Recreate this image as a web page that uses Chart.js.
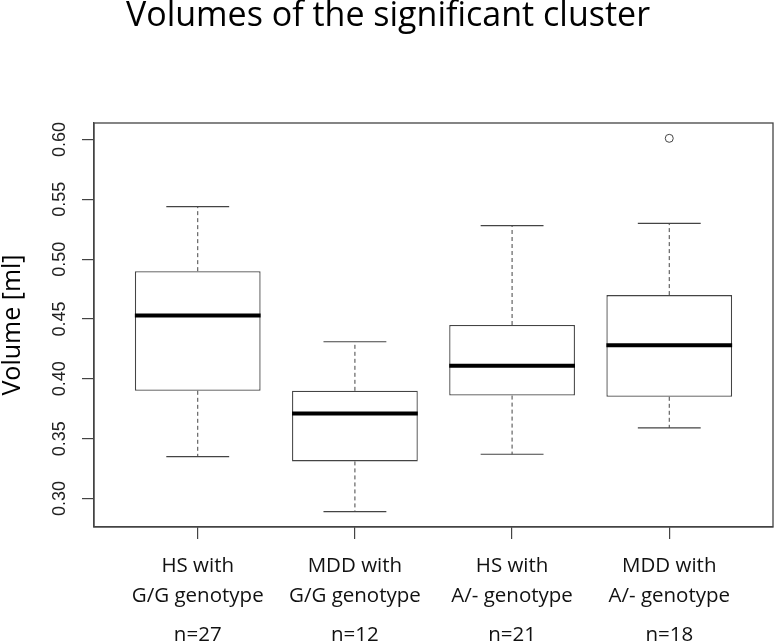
<!DOCTYPE html>
<html>
<head>
<meta charset="utf-8">
<title>Volumes of the significant cluster</title>
<script src="https://cdn.jsdelivr.net/npm/chart.js@4.4.1/dist/chart.umd.min.js"></script>
<style>
  html, body { margin: 0; padding: 0; background: #fff; }
  #wrap { width: 778px; height: 642px; }
</style>
</head>
<body>
<div id="wrap"><canvas id="chart" width="778" height="642"></canvas></div>
<script>
// Boxplot data
const categories = [
    ['HS with', 'G/G genotype'],
    ['MDD with', 'G/G genotype'],
    ['HS with', 'A/- genotype'],
    ['MDD with', 'A/- genotype']
];
const nLabels = ['n=27', 'n=12', 'n=21', 'n=18'];
const whiskerLow = [0.335, 0.289, 0.337, 0.359];
const q1 = [0.390, 0.331, 0.386, 0.385];
const median = [0.453, 0.371, 0.411, 0.428];
const q3 = [0.490, 0.390, 0.445, 0.470];
const whiskerHigh = [0.544, 0.431, 0.528, 0.530];
const outliers = [[], [], [], [0.601]];
const yTicks = [0.30, 0.35, 0.40, 0.45, 0.50, 0.55, 0.60];

const boxWidth = 0.8;   // in category units, like R's default
const capWidth = 0.4;
const lineColor = '#444';
const textFont = 'Open Sans';

const xPos = categories.map((c, i) => i + 1);

// helper: build line segments separated by gaps
function segments(fn) {
    const pts = [];
    xPos.forEach((x, i) => {
        fn(x, i).forEach(seg => {
            pts.push(seg[0], seg[1], { x: x, y: null });
        });
    });
    return pts;
}

const boxData = xPos.map((x, i) => ({ x: x, y: [q1[i], q3[i]] }));

const medianData = segments((x, i) => [[
    { x: x - boxWidth / 2, y: median[i] },
    { x: x + boxWidth / 2, y: median[i] }
]]);

const whiskerData = segments((x, i) => [
    [{ x: x, y: q3[i] }, { x: x, y: whiskerHigh[i] }],
    [{ x: x, y: q1[i] }, { x: x, y: whiskerLow[i] }]
]);

const capData = segments((x, i) => [
    [{ x: x - capWidth / 2, y: whiskerHigh[i] }, { x: x + capWidth / 2, y: whiskerHigh[i] }],
    [{ x: x - capWidth / 2, y: whiskerLow[i] }, { x: x + capWidth / 2, y: whiskerLow[i] }]
]);

const outlierData = [];
xPos.forEach((x, i) => outliers[i].forEach(v => outlierData.push({ x: x, y: v })));

// frame around the plot region, like R's box()
const framePlugin = {
    id: 'frame',
    afterDraw(chart) {
        const a = chart.chartArea;
        const ctx = chart.ctx;
        ctx.save();
        ctx.strokeStyle = lineColor;
        ctx.lineWidth = 1.3;
        ctx.strokeRect(a.left, a.top, a.right - a.left, a.bottom - a.top);
        ctx.restore();
    }
};

const xTicks = () => xPos.map(v => ({ value: v }));

new Chart(document.getElementById('chart'), {
    type: 'bar',
    data: {
        datasets: [{
            type: 'scatter',
            label: 'outliers',
            data: outlierData,
            pointStyle: 'circle',
            pointRadius: 4,
            pointBorderWidth: 1,
            pointBorderColor: lineColor,
            pointBackgroundColor: '#fff',
            order: 0
        }, {
            type: 'line',
            label: 'median',
            data: medianData,
            borderColor: '#000',
            borderWidth: 4,
            borderCapStyle: 'butt',
            pointRadius: 0,
            spanGaps: false,
            order: 1
        }, {
            type: 'line',
            label: 'caps',
            data: capData,
            borderColor: lineColor,
            borderWidth: 1.2,
            pointRadius: 0,
            spanGaps: false,
            order: 2
        }, {
            type: 'line',
            label: 'whiskers',
            data: whiskerData,
            borderColor: lineColor,
            borderWidth: 1,
            borderDash: [4, 3],
            pointRadius: 0,
            spanGaps: false,
            order: 3
        }, {
            type: 'bar',
            label: 'box',
            data: boxData,
            backgroundColor: '#fff',
            borderColor: lineColor,
            borderWidth: 1.3,
            borderSkipped: false,
            barPercentage: boxWidth,
            categoryPercentage: 1,
            order: 4
        }]
    },
    options: {
        responsive: false,
        animation: false,
        layout: { padding: { left: 0, right: 2, top: 0, bottom: 0 } },
        plugins: {
            legend: { display: false },
            tooltip: { enabled: false },
            title: {
                display: true,
                text: 'Volumes of the significant cluster',
                color: '#000',
                font: { family: textFont, size: 34, weight: 'normal', lineHeight: 1 },
                padding: { top: -1, bottom: 90 }
            }
        },
        scales: {
            x: {
                type: 'linear',
                position: 'bottom',
                min: 0.34,
                max: 4.66,
                offset: false,
                weight: 1,
                afterBuildTicks: s => { s.ticks = xTicks(); },
                afterFit: s => { s.height = 88; },
                ticks: {
                    autoSkip: false,
                    maxRotation: 0,
                    padding: 13,
                    color: '#111',
                    font: { family: textFont, size: 20.5, lineHeight: 1.42 },
                    callback: (v) => categories[Math.round(v) - 1] || ''
                },
                grid: { offset: false, drawOnChartArea: false, tickLength: 12, color: lineColor, lineWidth: 1.2 },
                border: { display: true, color: lineColor, width: 1.3 }
            },
            xn: {
                type: 'linear',
                position: 'bottom',
                min: 0.34,
                max: 4.66,
                offset: false,
                weight: 2,
                afterBuildTicks: s => { s.ticks = xTicks(); },
                afterFit: s => { s.height = 27; },
                ticks: {
                    autoSkip: false,
                    maxRotation: 0,
                    padding: 8,
                    color: '#111',
                    font: { family: textFont, size: 20.5 },
                    callback: (v) => nLabels[Math.round(v) - 1] || ''
                },
                grid: { display: false, drawTicks: false, tickLength: 0 },
                border: { display: false }
            },
            y: {
                type: 'linear',
                min: 0.2762,
                max: 0.6138,
                afterBuildTicks: s => { s.ticks = yTicks.map(v => ({ value: v })); },
                afterFit: s => { s.width = 94; },
                ticks: {
                    minRotation: 90,
                    maxRotation: 90,
                    crossAlign: 'center',
                    padding: 4,
                    color: '#222',
                    font: { family: 'Liberation Sans', size: 18 },
                    callback: v => v.toFixed(2)
                },
                grid: { drawOnChartArea: false, tickLength: 12, color: lineColor, lineWidth: 1.2 },
                border: { display: true, color: lineColor, width: 1.3 },
                title: {
                    display: true,
                    text: 'Volume [ml]',
                    color: '#000',
                    font: { family: textFont, size: 25, lineHeight: 1 },
                    padding: { top: 0, bottom: 0 }
                }
            }
        }
    },
    plugins: [framePlugin]
});
</script>
</body>
</html>
